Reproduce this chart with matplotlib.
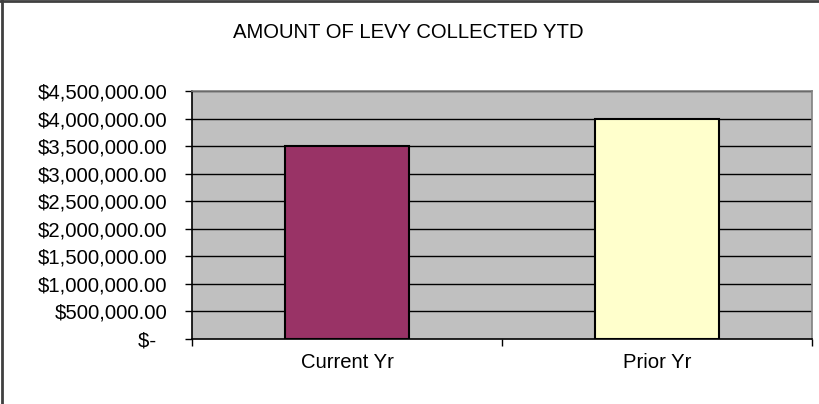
import matplotlib
matplotlib.use("Agg")
import matplotlib.pyplot as plt
from matplotlib.lines import Line2D

categories = ["Current Yr", "Prior Yr"]
values = [3500000, 3990000]
bar_colors = ["#993366", "#FFFFCC"]
yticks = [0, 500000, 1000000, 1500000, 2000000, 2500000, 3000000, 3500000, 4000000, 4500000]
ytick_labels = ["$-  "] + [f"${v:,.2f}" for v in yticks[1:]]
title = "AMOUNT OF LEVY COLLECTED YTD"

plt.rcParams['font.family'] = ['Liberation Sans', 'DejaVu Sans']
FS = 14.6

fig = plt.figure(figsize=(8.2, 4.04), dpi=100)
ax = fig.add_axes([192/820, 1-339/404, 620/820, 248/404])
ax.set_facecolor("#C0C0C0")

x = list(range(len(categories)))
ax.bar(x, values, width=0.4, color=bar_colors, edgecolor="black", linewidth=1.5, zorder=3)
ax.set_xlim(-0.5, 1.5)
ax.set_ylim(0, 4500000)
ax.set_yticks(yticks)
ax.set_yticklabels(ytick_labels, fontsize=FS)
for y in yticks[1:]:
    ax.axhline(y, color="black", linewidth=1, zorder=1)

ax.set_xticks([-0.5, 0.5, 1.5])
ax.set_xticklabels([])
ax.set_xticks(x, minor=True)
ax.set_xticklabels(categories, minor=True, fontsize=FS)
ax.tick_params(axis='x', which='minor', length=0, pad=10)
ax.tick_params(axis='x', which='major', length=5, direction='out', width=1)
ax.tick_params(axis='y', length=5, direction='out', width=1, pad=12.5)

ax.spines['left'].set_color('black')
ax.spines['bottom'].set_color('black')
ax.spines['top'].set_color('#808080')
ax.spines['right'].set_color('#808080')
for s in ax.spines.values():
    s.set_linewidth(1.2)

fig.text(408/820, 1-33/404, title, ha='center', va='center', fontsize=FS)

fig.add_artist(Line2D([0.002, 0.002], [0, 1], transform=fig.transFigure, color='#404040', linewidth=2))
fig.add_artist(Line2D([0, 1], [0.997, 0.997], transform=fig.transFigure, color='#404040', linewidth=2))

fig.savefig("out.png", dpi=100)
